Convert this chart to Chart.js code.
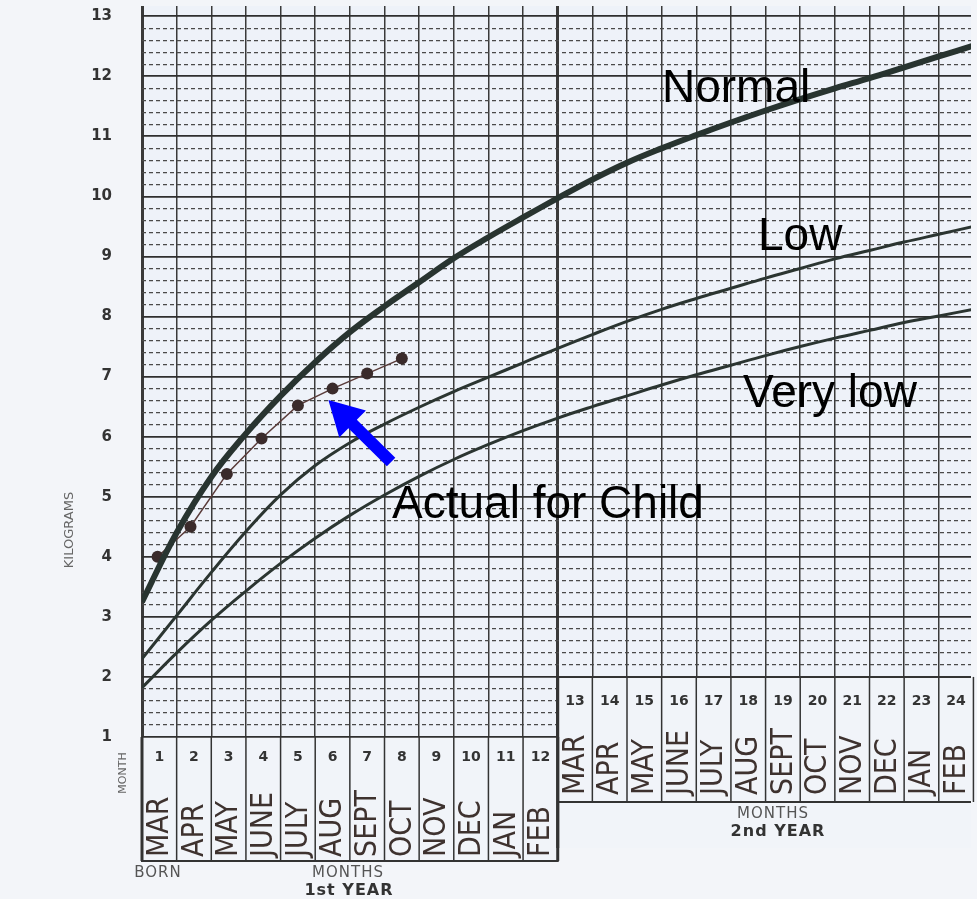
<!DOCTYPE html>
<html>
<head>
<meta charset="utf-8">
<script src="https://cdn.jsdelivr.net/npm/chart.js@4.4.0/dist/chart.umd.min.js"></script>
<style>
  html, body { margin: 0; padding: 0; background: #f3f5f9; }
  #wrap { width: 977px; height: 899px; }
</style>
</head>
<body>
<div id="wrap"><canvas id="growth-chart" width="977" height="899"></canvas></div>
<script>
// age in months (0 = born)
var months = [0,1,2,3,4,5,6,7,8,9,10,11,12,13,14,15,16,17,18,19,20,21,22,23,24];
var normal = [3.25,4.4,5.33,6.05,6.68,7.24,7.74,8.17,8.57,8.97,9.32,9.65,9.97,10.28,10.56,10.8,11.02,11.23,11.43,11.62,11.8,11.97,12.15,12.33,12.51];
var low = [2.3,3.02,3.74,4.42,5.03,5.52,5.9,6.21,6.49,6.75,6.99,7.23,7.47,7.7,7.92,8.12,8.3,8.47,8.64,8.8,8.96,9.1,9.24,9.37,9.5];
var veryLow = [1.82,2.4,2.94,3.43,3.89,4.31,4.69,5.03,5.34,5.62,5.87,6.1,6.31,6.5,6.68,6.86,7.03,7.19,7.35,7.5,7.64,7.77,7.9,8.01,8.12];

// weighings of the child, middle of each month column
var childMonths = [0.45,1.4,2.45,3.45,4.5,5.5,6.5,7.5];
var childWeight = [4.0,4.5,5.38,5.97,6.52,6.8,7.05,7.3];

var monthNumbers1 = ['1','2','3','4','5','6','7','8','9','10','11','12'];
var monthNumbers2 = ['13','14','15','16','17','18','19','20','21','22','23','24'];
var monthNames1 = ['MAR','APR','MAY','JUNE','JULY','AUG','SEPT','OCT','NOV','DEC','JAN','FEB'];
var monthNames2 = ['MAR','APR','MAY','JUNE','JULY','AUG','SEPT','OCT','NOV','DEC','JAN','FEB'];

function pts(xs, ys) {
  var out = [];
  for (var i = 0; i < xs.length; i++) out.push({x: xs[i], y: ys[i]});
  return out;
}
function near(v, step) {
  return Math.abs(v / step - Math.round(v / step)) < 1e-6;
}

var bgPlugin = {
  id: 'bg',
  beforeDraw: function (chart) {
    var ctx = chart.ctx, a = chart.chartArea;
    ctx.save();
    ctx.fillStyle = '#eef2f9';
    ctx.fillRect(a.left, a.top, a.right - a.left, a.bottom - a.top);
    ctx.restore();
  }
};

var boxPlugin = {
  id: 'boxes',
  afterDraw: function (chart) {
    var ctx = chart.ctx, x = chart.scales.x, y = chart.scales.y;
    var a = chart.chartArea;
    var y1 = y.getPixelForValue(1), y2 = y.getPixelForValue(2);
    var x0 = x.getPixelForValue(0), x12 = x.getPixelForValue(12);
    var bottom1 = 861, mid2 = 802, bottom2 = 848;
    var i, cx;
    ctx.save();

    // 2nd year box covers grid below 2 kg
    ctx.fillStyle = '#f1f4f9';
    ctx.fillRect(x12, y2, a.right - x12, bottom2 - y2);
    ctx.fillRect(x0, y1 + 1, x12 - x0, bottom1 - y1);

    ctx.strokeStyle = '#333';
    // 1st year columns
    for (i = 0; i <= 12; i++) {
      cx = x.getPixelForValue(i);
      ctx.lineWidth = (i == 0 || i == 12) ? 3 : 1.5;
      ctx.beginPath(); ctx.moveTo(cx, y1); ctx.lineTo(cx, bottom1); ctx.stroke();
    }
    ctx.lineWidth = 2;
    ctx.beginPath(); ctx.moveTo(x0 - 1, bottom1); ctx.lineTo(x12 + 1, bottom1); ctx.stroke();

    // 2nd year columns
    for (i = 12; i <= 24; i++) {
      cx = x.getPixelForValue(i);
      ctx.lineWidth = i == 12 ? 3 : 1.5;
      ctx.beginPath(); ctx.moveTo(cx, y2); ctx.lineTo(cx, i == 12 ? bottom2 : mid2); ctx.stroke();
    }
    ctx.lineWidth = 2;
    ctx.beginPath(); ctx.moveTo(x12, y2); ctx.lineTo(a.right, y2); ctx.stroke();
    ctx.beginPath(); ctx.moveTo(x12, mid2); ctx.lineTo(a.right, mid2); ctx.stroke();

    // numbers
    ctx.fillStyle = '#333';
    ctx.font = 'bold 14px "DejaVu Sans"';
    ctx.textAlign = 'center';
    ctx.textBaseline = 'middle';
    for (i = 0; i < 12; i++) {
      ctx.fillText(monthNumbers1[i], x.getPixelForValue(i + 0.5), 757);
      ctx.fillText(monthNumbers2[i], x.getPixelForValue(i + 12.5), 701);
    }

    // hand written month names, bottom to top
    ctx.fillStyle = '#3e322f';
    ctx.font = '30px "DejaVu Sans Condensed", "DejaVu Sans"';
    ctx.textAlign = 'left';
    for (i = 0; i < 12; i++) {
      ctx.save();
      ctx.translate(x.getPixelForValue(i + 0.5) + 1, 857);
      ctx.rotate(-Math.PI / 2);
      ctx.fillText(monthNames1[i], 0, 0, 82);
      ctx.restore();
      ctx.save();
      ctx.translate(x.getPixelForValue(i + 12.5) + 1, 795);
      ctx.rotate(-Math.PI / 2);
      ctx.fillText(monthNames2[i], 0, 0, 78);
      ctx.restore();
    }

    // printed captions
    ctx.fillStyle = '#555';
    ctx.font = '15px "DejaVu Sans"';
    ctx.letterSpacing = '1px';
    ctx.textAlign = 'center';
    ctx.fillText('BORN', 158, 873);
    ctx.fillText('MONTHS', 348, 873);
    ctx.fillText('MONTHS', 773, 814);
    ctx.fillStyle = '#333';
    ctx.font = 'bold 16px "DejaVu Sans"';
    ctx.fillText('1st YEAR', 349, 891);
    ctx.fillText('2nd YEAR', 778, 832);
    ctx.letterSpacing = '0px';

    ctx.fillStyle = '#666';
    ctx.font = '13px "DejaVu Sans"';
    ctx.save();
    ctx.translate(70, 530); ctx.rotate(-Math.PI / 2);
    ctx.fillText('KILOGRAMS', 0, 0);
    ctx.restore();
    ctx.font = '11px "DejaVu Sans"';
    ctx.save();
    ctx.translate(123, 773); ctx.rotate(-Math.PI / 2);
    ctx.fillText('MONTH', 0, 0);
    ctx.restore();

    // curve names
    ctx.fillStyle = '#000';
    ctx.font = '46px "Liberation Sans", Arial';
    ctx.textAlign = 'left';
    ctx.textBaseline = 'alphabetic';
    ctx.fillText('Normal', 662, 102);
    ctx.fillText('Low', 758, 250);
    ctx.fillText('Very low', 743, 407);
    ctx.fillText('Actual for Child', 392, 518);

    // blue arrow pointing at the child's line
    var tx = x.getPixelForValue(7.19), ty = y.getPixelForValue(5.58);
    var hx = x.getPixelForValue(5.38), hy = y.getPixelForValue(6.61);
    var dx = hx - tx, dy = hy - ty, len = Math.sqrt(dx * dx + dy * dy);
    var ux = dx / len, uy = dy / len, nx = -uy, ny = ux;
    var headLen = 34, headW = 19, shaftW = 6;
    var bx = hx - ux * headLen, by = hy - uy * headLen;
    ctx.fillStyle = '#0000ff';
    ctx.beginPath();
    ctx.moveTo(tx + nx * shaftW, ty + ny * shaftW);
    ctx.lineTo(bx + nx * shaftW, by + ny * shaftW);
    ctx.lineTo(bx + nx * headW, by + ny * headW);
    ctx.lineTo(hx, hy);
    ctx.lineTo(bx - nx * headW, by - ny * headW);
    ctx.lineTo(bx - nx * shaftW, by - ny * shaftW);
    ctx.lineTo(tx - nx * shaftW, ty - ny * shaftW);
    ctx.closePath();
    ctx.fill();

    ctx.restore();
  }
};

new Chart(document.getElementById('growth-chart'), {
  type: 'line',
  data: {
    datasets: [
      { label: 'Normal', data: pts(months, normal), borderColor: '#283430', borderWidth: 6, pointRadius: 0, tension: 0.4 },
      { label: 'Low', data: pts(months, low), borderColor: '#2b3531', borderWidth: 3, pointRadius: 0, tension: 0.4 },
      { label: 'Very low', data: pts(months, veryLow), borderColor: '#2b3531', borderWidth: 3, pointRadius: 0, tension: 0.4 },
      { label: 'Actual for Child', data: pts(childMonths, childWeight), borderColor: '#5a3c3a', borderWidth: 1.5,
        pointRadius: 6, pointBackgroundColor: '#3a2b2b', pointBorderWidth: 0 }
    ]
  },
  options: {
    responsive: false,
    animation: false,
    devicePixelRatio: 1,
    layout: { padding: { top: 6, left: 0, right: 0, bottom: 0 } },
    plugins: { legend: { display: false }, tooltip: { enabled: false } },
    scales: {
      x: {
        type: 'linear', min: 0, max: 23.93,
        ticks: { display: false, stepSize: 1, includeBounds: false },
        grid: {
          drawTicks: false,
          color: '#3a3a3a',
          lineWidth: function (c) { return (c.tick && (c.tick.value == 0 || c.tick.value == 12)) ? 3 : 1.5; }
        },
        border: { display: false },
        afterBuildTicks: function (s) { s.ticks = s.ticks.filter(function (t) { return near(t.value, 1); }); },
        afterFit: function (s) { s.height = 162; s.paddingLeft = 0; s.paddingRight = 0; }
      },
      y: {
        min: 1, max: 13.17,
        ticks: { stepSize: 1, includeBounds: false, padding: 30, color: '#333', font: { family: 'DejaVu Sans', size: 15, weight: 'bold' } },
        grid: { drawTicks: false, color: '#2f2f2f', lineWidth: 1.8 },
        border: { display: false },
        afterBuildTicks: function (s) { s.ticks = s.ticks.filter(function (t) { return near(t.value, 1); }); },
        afterFit: function (s) { s.width = 142; s.paddingTop = 0; s.paddingBottom = 0; }
      },
      y2: {
        position: 'right', min: 1, max: 13.17,
        ticks: { display: false, stepSize: 0.2, includeBounds: false },
        grid: {
          drawTicks: false, lineWidth: 1.2,
          color: function (c) { return (c.tick && near(c.tick.value, 1)) ? 'rgba(0,0,0,0)' : '#4a4a4a'; }
        },
        border: { display: false, dash: [4, 3] },
        afterBuildTicks: function (s) { s.ticks = s.ticks.filter(function (t) { return near(t.value, 0.2); }); },
        afterFit: function (s) { s.width = 0; s.paddingTop = 0; s.paddingBottom = 0; }
      }
    }
  },
  plugins: [bgPlugin, boxPlugin]
});
</script>
</body>
</html>
